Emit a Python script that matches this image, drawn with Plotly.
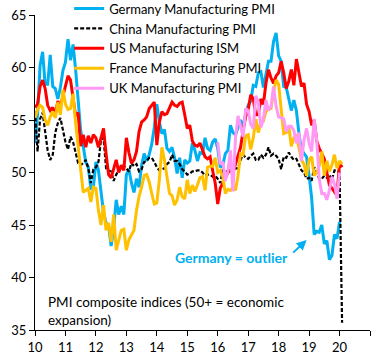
import plotly.graph_objects as go

# Monthly series, starting month index (0 = Jan 2010)
germany_start = 0
germany = [
    52.8, 55.5, 60.2, 61.5, 58.4, 58.4, 61.2, 58.2, 58.0, 57.0, 58.1, 59.7,
    60.5, 62.7, 60.7, 62.2, 59.8, 56.9, 54.0, 52.5, 51.0, 50.5, 48.5, 48.6,
    51.0, 50.2, 48.4, 46.2, 45.2, 45.0, 43.0, 44.7, 47.4, 46.0, 46.8, 46.0,
    49.8, 50.3, 49.0, 48.1, 49.4, 48.6, 50.7, 51.8, 51.1, 51.7, 52.7, 54.3,
    56.5, 54.8, 53.7, 54.1, 52.3, 52.0, 52.4, 51.4, 49.9, 51.4, 49.5, 51.2,
    50.9, 51.1, 52.8, 52.1, 51.1, 51.9, 51.8, 53.3, 52.3, 52.1, 52.9, 53.2,
    52.3, 50.5, 50.7, 51.8, 52.1, 54.5, 53.8, 53.6, 54.3, 55.0, 54.3, 55.6,
    56.4, 56.8, 58.3, 58.2, 59.5, 59.6, 58.1, 59.3, 60.6, 60.6, 62.5, 63.3,
    61.1, 60.6, 58.2, 58.1, 56.9, 55.9, 56.9, 55.9, 53.7, 52.2, 51.8, 51.5,
    49.7, 47.6, 44.1, 44.4, 44.3, 45.0, 43.2, 43.5, 41.7, 42.1, 44.1, 43.7,
    45.3,
]

china_start = 0
china = [
    55.8, 52.0, 55.1, 55.7, 53.9, 52.1, 51.2, 51.7, 53.8, 54.7, 55.2, 53.9,
    52.9, 52.2, 53.4, 52.9, 52.0, 50.9, 50.7, 50.9, 51.2, 50.4, 49.0, 50.3,
    50.5, 51.0, 53.1, 53.3, 50.4, 50.2, 50.1, 49.2, 49.8, 50.2, 50.6, 50.6,
    50.4, 50.1, 50.9, 50.6, 50.8, 50.1, 50.3, 51.0, 51.1, 51.4, 51.4, 51.0,
    50.5, 50.2, 50.3, 50.4, 50.8, 51.0, 51.7, 51.1, 51.1, 50.8, 50.3, 50.1,
    49.8, 49.9, 50.1, 50.1, 50.2, 50.2, 50.0, 49.7, 49.8, 49.8, 49.6, 49.7,
    49.4, 49.0, 50.2, 50.1, 50.1, 50.0, 49.9, 50.4, 50.4, 51.2, 51.7, 51.4,
    51.3, 51.6, 51.8, 51.2, 51.2, 51.7, 51.4, 51.7, 52.4, 51.6, 51.8, 51.6,
    51.3, 50.3, 51.5, 51.4, 51.9, 51.5, 51.2, 51.3, 50.8, 50.2, 50.0, 49.4,
    49.5, 49.2, 50.5, 50.1, 49.4, 49.4, 49.7, 49.5, 49.8, 49.3, 50.2, 50.2,
    50.0, 35.7,
]

us_start = 0
us = [
    56.2, 56.5, 58.2, 58.8, 58.0, 56.4, 55.9, 56.2, 55.5, 56.8, 56.3, 57.3,
    58.3, 59.2, 58.8, 57.3, 55.4, 55.7, 52.5, 53.6, 52.4, 53.5, 52.8, 53.6,
    53.3, 52.4, 53.2, 54.2, 51.8, 49.8, 49.5, 50.3, 51.2, 50.0, 50.7, 50.2,
    53.3, 51.9, 50.9, 51.2, 52.0, 53.9, 54.8, 55.0, 55.3, 56.1, 56.4, 56.7,
    52.6, 54.8, 55.8, 55.5, 55.6, 56.1, 56.7, 56.4, 56.3, 56.6, 56.7, 55.5,
    54.2, 54.5, 53.0, 52.6, 52.5, 52.8, 52.2, 51.5, 51.3, 51.5, 50.2, 49.0,
    47.0, 48.5, 49.0, 49.5, 50.0, 50.2, 50.0, 50.8, 51.5, 52.4, 54.0, 55.3,
    56.0, 57.4, 57.0, 55.5, 55.5, 57.0, 56.5, 58.5, 59.8, 59.0, 58.5, 59.2,
    59.5, 60.6, 59.5, 58.0, 58.7, 59.8, 58.3, 60.8, 59.5, 58.2, 58.5, 56.5,
    55.8, 54.5, 55.0, 53.0, 52.3, 51.8, 51.3, 50.0, 48.8, 48.5, 48.2, 47.8,
    50.9, 50.5,
]

france_start = 0
france = [
    55.2, 56.0, 56.4, 56.2, 55.0, 54.5, 55.3, 55.8, 55.2, 56.7, 55.5, 57.9,
    56.5, 56.0, 56.1, 57.5, 54.7, 52.5, 50.2, 48.1, 48.3, 48.5, 47.2, 48.6,
    48.5, 46.4, 45.0, 46.9, 44.5, 45.2, 43.4, 46.0, 42.6, 43.6, 44.5, 44.6,
    42.6, 43.6, 44.0, 44.5, 46.4, 47.7, 48.6, 49.7, 49.8, 49.1, 48.0, 47.0,
    47.1, 49.3, 52.4, 51.2, 49.6, 48.0, 47.8, 46.9, 47.4, 48.6, 47.7, 47.5,
    49.3, 48.0, 48.8, 48.2, 48.8, 49.5, 49.6, 48.3, 50.5, 50.6, 50.6, 51.4,
    50.0, 50.2, 49.6, 48.0, 48.4, 48.3, 48.6, 48.3, 49.7, 51.8, 51.7, 53.5,
    53.6, 52.2, 53.3, 55.1, 53.8, 54.8, 54.9, 55.8, 56.1, 56.1, 57.7, 58.8,
    58.4, 55.9, 53.7, 53.8, 54.4, 52.5, 53.3, 53.5, 52.5, 51.2, 50.8, 49.7,
    51.2, 51.5, 49.7, 50.0, 50.6, 52.0, 49.7, 51.1, 50.1, 50.7, 51.7, 50.4,
    51.1, 50.8,
]

uk_start = 72
uk = [
    52.9, 50.8, 51.0, 49.2, 50.1, 52.1, 48.2, 53.3, 55.4, 54.3, 53.4, 56.1,
    55.9, 54.6, 54.2, 57.3, 56.7, 54.3, 55.1, 56.9, 55.9, 56.3, 58.2, 56.3,
    55.3, 55.2, 55.1, 53.9, 54.4, 54.4, 54.0, 52.8, 53.8, 51.1, 53.1, 54.2,
    52.8, 52.0, 55.1, 53.1, 49.4, 48.0, 48.0, 47.4, 48.3, 49.6, 48.9, 47.5,
    50.0,
]

series_names = [
    "Germany Manufacturing PMI",
    "China Manufacturing PMI",
    "US Manufacturing ISM",
    "France Manufacturing PMI",
    "UK Manufacturing PMI",
]

x_tick_vals = [10, 11, 12, 13, 14, 15, 16, 17, 18, 19, 20, 21]
x_tick_text = ["10", "11", "12", "13", "14", "15", "16", "17", "18", "19", "20", ""]
y_tick_vals = [35, 40, 45, 50, 55, 60, 65]


def xs(start, vals):
    return [10 + (start + i) / 12 for i in range(len(vals))]


FONT = "Lato"
fig = go.Figure()

specs = [
    (germany_start, germany, "#00B0F0", 3, "solid"),
    (china_start, china, "#000000", 2.2, "4px,2px"),
    (us_start, us, "#FF0000", 3, "solid"),
    (france_start, france, "#FFC000", 3, "solid"),
    (uk_start, uk, "#FF99F5", 3, "solid"),
]
for name, (st, vals, col, w, dash) in zip(series_names, specs):
    fig.add_trace(go.Scatter(
        x=xs(st, vals), y=vals, mode="lines", name=name,
        line=dict(color=col, width=w, dash=dash),
    ))

fig.add_annotation(
    x=18.92, y=43.57, xref="x", yref="y", text="", showarrow=True,
    ax=-15, ay=14, arrowcolor="#00B0F0", arrowwidth=2, arrowhead=2, arrowsize=1,
)
fig.add_annotation(
    x=18.36, y=41.9, xref="x", yref="y", xanchor="right", yanchor="middle",
    text="<b>Germany = outlier</b>", showarrow=False,
    font=dict(family=FONT, size=14, color="#00B0F0"),
)
fig.add_annotation(
    x=10.36, y=36.85, xref="x", yref="y", xanchor="left", yanchor="middle",
    align="left", showarrow=False,
    text="PMI composite indices (50+ = economic<br>expansion)",
    font=dict(family=FONT, size=13.5, color="#000000"),
)

fig.update_layout(
    width=384, height=360,
    margin=dict(l=35, r=14, t=15, b=30, autoexpand=False),
    paper_bgcolor="white", plot_bgcolor="white",
    font=dict(family=FONT, size=13, color="#000000"),
    showlegend=True,
    legend=dict(
        x=0.102, y=1.068, xanchor="left", yanchor="top",
        bgcolor="rgba(0,0,0,0)", font=dict(family=FONT, size=13),
        tracegroupgap=0, itemwidth=30,
    ),
    xaxis=dict(
        range=[10, 21], tickvals=x_tick_vals, ticktext=x_tick_text,
        showgrid=False, zeroline=False, showline=True, linecolor="#000000",
        linewidth=1, ticks="outside", ticklen=5, tickcolor="#000000",
        tickfont=dict(family=FONT, size=13), automargin=False,
    ),
    yaxis=dict(
        range=[35, 65], tickvals=y_tick_vals,
        showgrid=False, zeroline=False, showline=True, linecolor="#000000",
        linewidth=1, ticks="outside", ticklen=5, tickcolor="#000000",
        tickfont=dict(family=FONT, size=13), automargin=False,
    ),
)

fig.write_html(
    "out.html",
    config={"displayModeBar": False},
    post_script="document.body.style.margin='0';document.body.style.padding='0';",
)
